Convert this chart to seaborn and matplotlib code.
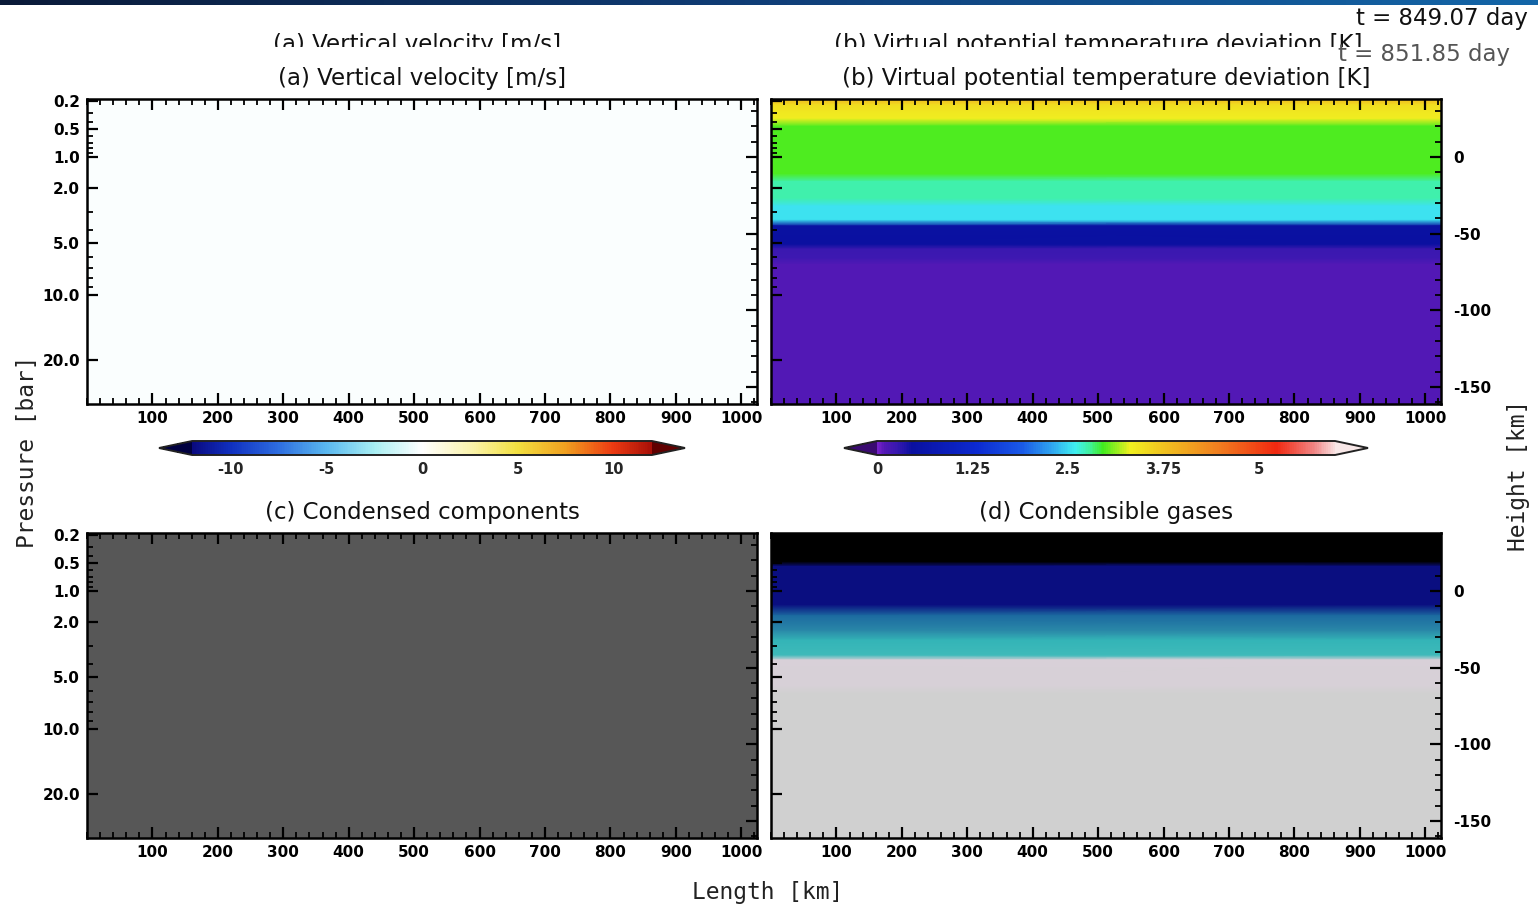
import numpy as np
import matplotlib
matplotlib.use("Agg")
import matplotlib.pyplot as plt
import seaborn as sns
from matplotlib.colors import LinearSegmentedColormap, Normalize
from matplotlib.ticker import MultipleLocator, FixedLocator
import matplotlib.cm as cm

sns.set_theme(style="ticks")
plt.rcParams["font.family"] = ["DejaVu Sans"]
plt.rcParams["axes.axisbelow"] = False

W, H = 1538, 910

# ---------------- data ----------------
# horizontal domain [km]
length_km = [0.0, 1024.0]
length_ticks = [100, 200, 300, 400, 500, 600, 700, 800, 900, 1000]

# vertical domain [km] and height ticks
z_top, z_bottom = 37.8, -161.0
height_ticks = [0, -50, -100, -150]

# pressure ticks [bar] and their heights [km]
pressure_major = [0.2, 0.5, 1.0, 2.0, 5.0, 10.0, 20.0]
pressure_labels = ["0.2", "0.5", "1.0", "2.0", "5.0", "10.0", "20.0"]
pressure_major_z = [36.5, 18.3, 0.0, -20.2, -56.1, -90.0, -132.3]
pressure_minor = [0.3, 0.4, 0.6, 0.7, 0.8, 0.9, 3.0, 4.0, 6.0, 7.0, 8.0, 9.0]

# (a) vertical velocity [m/s]
w_z = [37.8, -161.0]
w_val = [-0.15, -0.15]

# (b) virtual potential temperature deviation [K]
theta_z = [37.8, 34.0, 30.0, 25.0, 20.0, -11.0, -16.0, -27.0, -32.0,
           -41.0, -45.0, -57.0, -60.0, -66.0, -70.0, -161.0]
theta_val = [3.85, 3.5, 3.4, 3.35, 2.98, 2.98, 2.75, 2.75, 2.55,
             2.55, 0.5, 0.45, 0.25, 0.22, 0.1, 0.1]

# (c) condensed components
cond_z = [37.8, -161.0]
cond_val = [0.0, 0.0]

# (d) condensible gases (normalised)
gas_z = [37.8, 19.0, 16.0, -9.0, -16.0, -26.0, -32.0, -42.0, -45.0,
         -62.0, -67.0, -161.0]
gas_val = [0.0, 0.0, 0.2, 0.2, 0.42, 0.52, 0.66, 0.68, 0.86,
           0.88, 1.0, 1.0]

# colour bar settings
w_range = (-12.0, 12.0)
w_cb_ticks = [-10, -5, 0, 5, 10]
theta_range = (0.0, 6.0)
theta_cb_ticks = [0, 1.25, 2.5, 3.75, 5]
theta_cb_labels = ["0", "1.25", "2.5", "3.75", "5"]

# ---------------- colour maps ----------------
def pos_cmap(name, vmin, vmax, stops):
    return LinearSegmentedColormap.from_list(
        name, [((v - vmin) / (vmax - vmin), c) for v, c in stops])

cmap_w = pos_cmap("w", -12, 12, [
    (-12, "#0a0a80"), (-10, "#1030c0"), (-7.5, "#2e6ee0"), (-5, "#5ab8ef"),
    (-2.5, "#a8eef2"), (0, "#ffffff"), (2.5, "#fbf4b0"), (5, "#f2e040"),
    (7.5, "#f0a020"), (10, "#ec3a12"), (12, "#a81008")])
cmap_w.set_under("#000040")
cmap_w.set_over("#600000")

cmap_theta = pos_cmap("theta", 0, 6, [
    (0.0, "#7420c8"), (0.1, "#5018b4"), (0.25, "#3818b0"), (0.45, "#0a10a0"),
    (1.3, "#0c2ad0"), (1.9, "#1a5ae8"),
    (2.3, "#30a8f0"), (2.6, "#40f0f0"), (2.78, "#40f0a0"), (2.96, "#40ec20"),
    (3.32, "#f0f020"), (3.78, "#f0c020"), (4.46, "#f08020"), (5.24, "#f02810"),
    (5.75, "#f08888"), (6.0, "#f8dcdc")])
cmap_theta.set_under("#3a0a70")
cmap_theta.set_over("#f8e8e8")

cmap_cond = sns.blend_palette(["#575757", "#a0a0a0", "#ffffff"], as_cmap=True)

cmap_gas = pos_cmap("gas", 0, 1, [
    (0.0, "#000000"), (0.2, "#0a0e80"), (0.42, "#1c6aa0"), (0.52, "#2a88a8"),
    (0.67, "#34b8b8"), (0.86, "#d8d0d8"), (1.0, "#d0d0d0")])

# ---------------- figure ----------------
fig = plt.figure(figsize=(W / 100, H / 100), dpi=100)
fig.patch.set_facecolor("white")


def frac_box(x0, y0, x1, y1):
    return [x0 / W, 1 - y1 / H, (x1 - x0) / W, (y1 - y0) / H]


def log_interp(p):
    return np.interp(np.log(p), np.log(pressure_major), pressure_major_z)


tick_font = dict(fontsize=11, fontweight="bold")


def draw_panel(box, zs, vals, cmap, vmin, vmax, left_labels, right_labels):
    ax = fig.add_axes(frac_box(*box))
    ax.set_axisbelow(False)
    X, Z = np.meshgrid(np.array(length_km), np.array(zs))
    C = np.tile(np.array(vals)[:, None], (1, 2))
    ax.pcolormesh(X, Z, C, cmap=cmap, vmin=vmin, vmax=vmax, shading="gouraud",
                  zorder=0)
    ax.set_xlim(length_km[0], length_km[1])
    ax.set_ylim(z_bottom, z_top)
    ax.set_xticks(length_ticks)
    ax.set_xticklabels([str(t) for t in length_ticks], **tick_font)
    ax.xaxis.set_minor_locator(MultipleLocator(20))
    ax.set_yticks(pressure_major_z)
    if left_labels:
        ax.set_yticklabels(pressure_labels, **tick_font)
    else:
        ax.set_yticklabels([])
    ax.yaxis.set_minor_locator(FixedLocator([log_interp(p) for p in pressure_minor]))
    ax.tick_params(axis="both", which="major", direction="in", length=8, width=1.6,
                   top=True, bottom=True, left=True, right=False, pad=5, colors="black")
    ax.tick_params(axis="both", which="minor", direction="in", length=4, width=1.3,
                   top=True, bottom=True, left=True, right=False, colors="black")
    for s in ax.spines.values():
        s.set_linewidth(1.8)
        s.set_color("black")
    tw = ax.twinx()
    tw.set_ylim(z_bottom, z_top)
    tw.set_yticks(height_ticks)
    if right_labels:
        tw.set_yticklabels([str(t) for t in height_ticks], **tick_font)
    else:
        tw.set_yticklabels([])
    tw.yaxis.set_minor_locator(MultipleLocator(10))
    tw.tick_params(axis="y", which="major", direction="in", length=8, width=1.6, pad=9,
                   colors="black")
    tw.tick_params(axis="y", which="minor", direction="in", length=4, width=1.3,
                   colors="black")
    for s in tw.spines.values():
        s.set_visible(False)
    ax.grid(False)
    tw.grid(False)
    return ax


ax_a = draw_panel((87, 99, 757, 404), w_z, w_val, cmap_w, *w_range, True, False)
ax_b = draw_panel((771, 99, 1441, 404), theta_z, theta_val, cmap_theta, *theta_range, False, True)
ax_c = draw_panel((87, 533, 757, 838), cond_z, cond_val, cmap_cond, 0, 1, True, False)
ax_d = draw_panel((771, 533, 1441, 838), gas_z, gas_val, cmap_gas, 0, 1, False, True)

title_font = dict(fontsize=16.5, ha="center", va="center", color="#111111")
fig.text(422 / W, 1 - 78 / H, "(a) Vertical velocity [m/s]", **title_font)
fig.text(1106 / W, 1 - 78 / H, "(b) Virtual potential temperature deviation [K]", **title_font)
fig.text(422 / W, 1 - 512 / H, "(c) Condensed components", **title_font)
fig.text(1106 / W, 1 - 512 / H, "(d) Condensible gases", **title_font)


# colour bars (axes box spans the end triangles too)
def draw_cbar(box, cmap, vmin, vmax, ticks, labels):
    cax = fig.add_axes(frac_box(*box))
    sm = cm.ScalarMappable(norm=Normalize(vmin, vmax), cmap=cmap)
    cb = fig.colorbar(sm, cax=cax, orientation="horizontal", extend="both",
                      extendfrac=0.072, drawedges=False)
    cb.set_ticks(ticks)
    cb.set_ticklabels(labels)
    cb.outline.set_linewidth(1.4)
    cb.outline.set_edgecolor("#222222")
    cax.tick_params(length=0, pad=5, labelsize=10.5)
    for t in cax.get_xticklabels():
        t.set_fontweight("bold")
    return cb


draw_cbar((159, 441, 685, 455), cmap_w, *w_range, w_cb_ticks,
          [str(t) for t in w_cb_ticks])
draw_cbar((844, 441, 1368, 455), cmap_theta, *theta_range, theta_cb_ticks, theta_cb_labels)

# axis labels
label_font = dict(family="DejaVu Sans Mono", fontsize=16.5, color="#222222")
fig.text(28 / W, 1 - 452 / H, "Pressure [bar]", rotation=90, ha="center", va="center", **label_font)
fig.text(1518 / W, 1 - 475 / H, "Height [km]", rotation=90, ha="center", va="center", **label_font)
fig.text(768 / W, 1 - 893 / H, "Length [km]", ha="center", va="center", **label_font)

# time stamp
fig.text(1510 / W, 1 - 55 / H, "t = 851.85 day", ha="right", va="center",
         fontsize=16.5, color="#555555")

# header strip with the previous frame's lettering
ax_band = fig.add_axes(frac_box(0, 0, W, 5))
ax_band.imshow(np.linspace(0, 1, 256)[None, :], aspect="auto",
               cmap=sns.blend_palette(["#0a1a38", "#103e78", "#1466a8"], as_cmap=True))
ax_band.set_axis_off()

ax_prev = fig.add_axes(frac_box(0, 5, W, 47))
ax_prev.set_xlim(0, W)
ax_prev.set_ylim(47, 5)
ax_prev.set_axis_off()
prev_font = dict(fontsize=16.5, ha="center", va="center", color="#111111", clip_on=True)
ax_prev.text(417, 45, "(a) Vertical velocity [m/s]", **prev_font)
ax_prev.text(1098, 45, "(b) Virtual potential temperature deviation [K]", **prev_font)
ax_prev.text(1528, 18, "t = 849.07 day", ha="right", va="center", fontsize=16.5,
             color="#111111", clip_on=True)

fig.savefig("out.png", dpi=100, facecolor="white")
